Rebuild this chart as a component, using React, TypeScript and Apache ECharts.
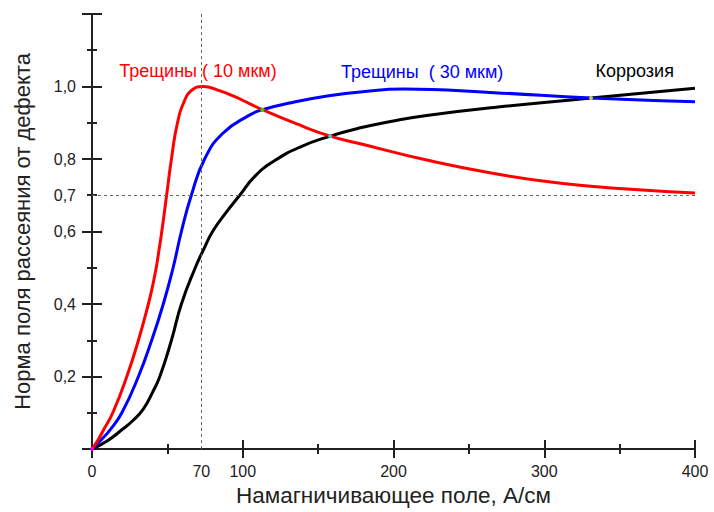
import React, { useEffect, useRef } from "react";
import * as echarts from "echarts";

// ---- data ----
const crack10: number[][] = [
  [0, 0], [4, 0.025], [7.7, 0.053], [13.8, 0.1], [23.1, 0.2], [30.8, 0.3], [37.4, 0.4],
  [40.2, 0.45], [42.6, 0.5], [44.5, 0.55], [46.3, 0.6], [49.5, 0.7], [52.7, 0.8],
  [56.7, 0.9], [61.5, 0.962], [65.9, 0.989], [73.6, 1.0], [84.9, 0.988], [93.6, 0.974],
  [104.4, 0.953], [113, 0.936], [135, 0.898], [158, 0.863], [178, 0.842], [222, 0.797],
  [266.6, 0.76], [311, 0.733], [355, 0.717], [400, 0.706],
];
const crack30: number[][] = [
  [0, 0], [6, 0.025], [12, 0.053], [19.8, 0.1], [30.8, 0.2], [39.6, 0.3], [47.3, 0.4],
  [53.8, 0.5], [59.3, 0.6], [65.9, 0.7], [74.7, 0.8], [86.8, 0.871], [104.4, 0.921],
  [113, 0.936], [135, 0.958], [158, 0.975], [178, 0.985], [206.7, 0.993], [266.7, 0.983],
  [331, 0.968], [400, 0.958],
];
const corrosion: number[][] = [
  [0, 0], [10, 0.022], [19.8, 0.053], [27, 0.078], [34, 0.11], [40, 0.155], [45, 0.2],
  [52.7, 0.3], [59.3, 0.4], [68.5, 0.5], [74, 0.55], [80, 0.6], [88.5, 0.65], [98, 0.7],
  [108, 0.752], [121, 0.795], [138, 0.833], [158, 0.863], [178, 0.886], [200, 0.905],
  [222, 0.92], [266.7, 0.942], [331, 0.968], [400, 0.995],
];
const crossings: number[][] = [[0, 0], [113, 0.936], [158, 0.863], [331, 0.968]];
const crossingColors = ["#ff00ff", "#00ff00", "#00ffff", "#ffff00"];

const seriesNames = ["Трещины ( 10 мкм)", "Трещины  ( 30 мкм)", "Коррозия"];
const seriesLabelAt: number[][] = [[70.3, 1.042], [219, 1.04], [360, 1.042]];
const refX = 72.5;
const refXLabel = "70";
const refY = 0.7;
const refYLabel = "0,7";
const xTitle = "Намагничивающее поле, А/см";
const yTitle = "Норма поля рассеяния от дефекта";

const FONT = "'Liberation Sans', Arial, sans-serif";
const AX = "#222";

export default function App() {
  const ref = useRef<HTMLDivElement>(null);
  useEffect(() => {
    if (!ref.current) return;
    const chart = echarts.init(ref.current, null, { renderer: "svg" });
    const colors = ["#ff0000", "#0000ff", "#000000"];
    const datas = [crack10, crack30, corrosion];
    const ls = { color: AX, width: 2 };
    const noLabel = { show: false };
    const baseX = {
      type: "value",
      min: 0,
      max: 400,
      interval: 100,
      position: "bottom",
      splitLine: { show: false },
    };
    const baseY = {
      type: "value",
      min: 0,
      max: 1.2,
      interval: 0.2,
      position: "left",
      splitLine: { show: false },
    };
    const dashed = { type: [3, 3], color: "#666", width: 1 };
    const series: any[] = datas.map((d, i) => ({
      type: "line",
      name: seriesNames[i],
      data: d,
      smooth: 0.5,
      showSymbol: false,
      symbol: "none",
      lineStyle: { color: colors[i], width: 3 },
      z: 3 - i,
      markPoint: {
        symbol: "circle",
        symbolSize: 1,
        itemStyle: { color: "rgba(0,0,0,0)" },
        silent: true,
        label: {
          show: true,
          position: "inside",
          formatter: seriesNames[i],
          color: colors[i],
          fontSize: 18,
          fontFamily: FONT,
        },
        data: [{ coord: seriesLabelAt[i] }],
      },
    }));
    series[0].markLine = {
      symbol: "none",
      silent: true,
      lineStyle: dashed,
      label: {
        show: true,
        position: "start",
        fontSize: 16,
        fontFamily: FONT,
        color: AX,
      },
      data: [
        [
          { coord: [refX, 0], label: { formatter: refXLabel, distance: 14 } },
          { coord: [refX, 1.2] },
        ],
        [
          { coord: [0, refY], label: { formatter: refYLabel, distance: 16 } },
          { coord: [400, refY] },
        ],
      ],
    };
    series.push({
      type: "scatter",
      data: crossings.map((c, i) => ({ value: c, itemStyle: { color: crossingColors[i] } })),
      symbolSize: 4,
      silent: true,
      z: 10,
    });

    chart.setOption({
      animation: false,
      textStyle: { fontFamily: FONT },
      grid: { left: 92, right: 19, top: 14, bottom: 60, containLabel: false },
      xAxis: [
        {
          ...baseX,
          axisLine: { show: true, onZero: false, lineStyle: ls },
          axisTick: { show: false },
          axisLabel: { show: true, margin: 14, fontSize: 16, color: AX, fontFamily: FONT },
          name: xTitle,
          nameLocation: "middle",
          nameGap: 35,
          nameTextStyle: { fontSize: 22.5, color: AX, fontFamily: FONT },
        },
        {
          ...baseX,
          offset: 9,
          axisLine: { show: false, onZero: false },
          axisTick: { show: true, inside: true, length: 18, lineStyle: ls },
          axisLabel: noLabel,
        },
        {
          ...baseX,
          offset: 5,
          axisLine: { show: false, onZero: false },
          axisTick: { show: false, inside: true },
          minorTick: { show: true, splitNumber: 2, length: 10, lineStyle: ls },
          axisLabel: noLabel,
        },
      ],
      yAxis: [
        {
          ...baseY,
          axisLine: { show: true, onZero: false, lineStyle: ls },
          axisTick: { show: false },
          axisLabel: {
            show: true,
            margin: 16,
            fontSize: 16,
            color: AX,
            fontFamily: FONT,
            formatter: (v: number) => (v < 0.05 || v > 1.1 ? "" : v.toFixed(1).replace(".", ",")),
          },
          name: yTitle,
          nameLocation: "middle",
          nameGap: 59,
          nameTextStyle: { fontSize: 22, color: AX, fontFamily: FONT },
        },
        {
          ...baseY,
          offset: 10,
          axisLine: { show: false, onZero: false },
          axisTick: { show: true, inside: true, length: 20, lineStyle: ls },
          axisLabel: noLabel,
        },
        {
          ...baseY,
          offset: 5,
          axisLine: { show: false, onZero: false },
          axisTick: { show: false, inside: true },
          minorTick: { show: true, splitNumber: 2, length: 10, lineStyle: ls },
          axisLabel: noLabel,
        },
      ],
      series,
    });
    return () => chart.dispose();
  }, []);
  return (
    <div
      ref={ref}
      style={{ position: "fixed", left: 0, top: 0, width: 714, height: 512, background: "#fff" }}
    />
  );
}
